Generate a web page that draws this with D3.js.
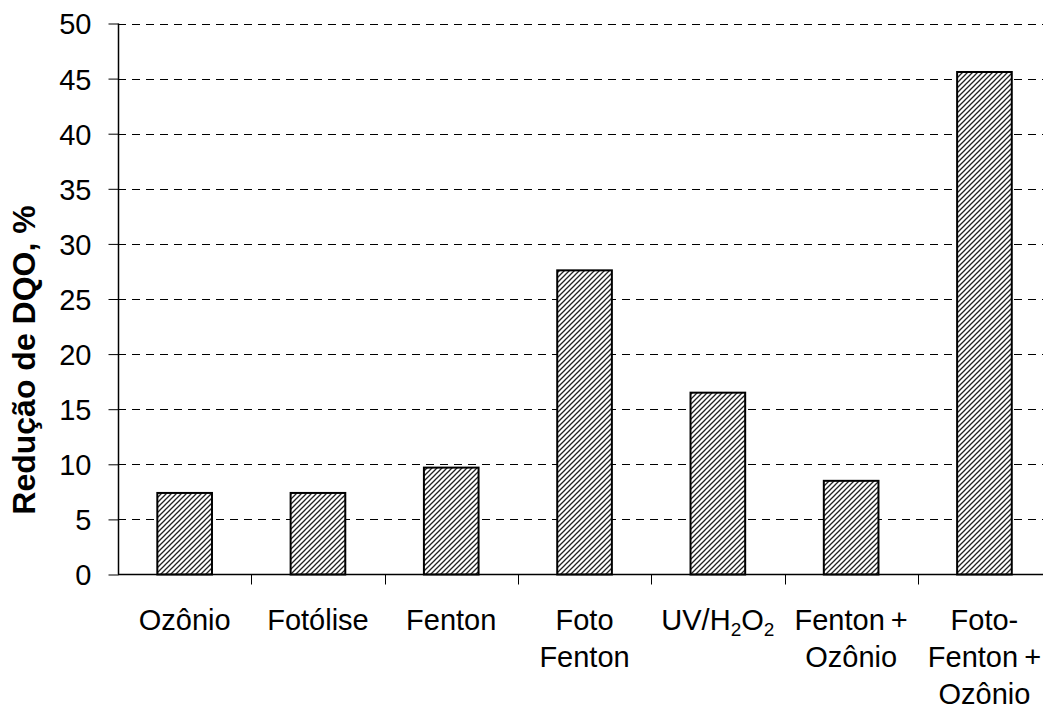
<!DOCTYPE html>
<html>
<head>
<meta charset="utf-8">
<script src="https://cdn.jsdelivr.net/npm/d3@7"></script>
<style>
  html, body { margin: 0; padding: 0; background: #fff; }
  svg { display: block; }
  text { font-family: "Liberation Sans", Arial, sans-serif; fill: #000; }
</style>
</head>
<body>
<svg id="chart" width="1043" height="711"></svg>
<script>
// Treatment processes (multi-line labels split into rows)
const categories = ["Ozônio", "Fotólise", "Fenton", "Foto Fenton", "UV/H2O2", "Fenton + Ozônio", "Foto-Fenton + Ozônio"];
const labelLines = [
  ["Ozônio"],
  ["Fotólise"],
  ["Fenton"],
  ["Foto", "Fenton"],
  ["UV/H2O2"],
  ["Fenton +", "Ozônio"],
  ["Foto-", "Fenton +", "Ozônio"]
];
// COD reduction, %
const reducao = [7.4, 7.4, 9.7, 27.6, 16.5, 8.5, 45.6];
const yTicks = [0, 5, 10, 15, 20, 25, 30, 35, 40, 45, 50];
const yTitle = "Redução de DQO, %";

const svg = d3.select("#chart");
const plotLeft = 118, plotTop = 23.5, plotBottom = 574.5;
const bandW = 133.3;

const x = d3.scaleBand()
  .domain(categories)
  .range([plotLeft, plotLeft + bandW * categories.length])
  .paddingInner(0.59)
  .paddingOuter(0.295);

const y = d3.scaleLinear().domain([0, 50]).range([plotBottom, plotTop]);

// diagonal hatch fill
const defs = svg.append("defs");
const pat = defs.append("pattern")
  .attr("id", "hatch")
  .attr("patternUnits", "userSpaceOnUse")
  .attr("width", 5).attr("height", 5);
pat.append("rect").attr("width", 5).attr("height", 5).attr("fill", "#fff");
pat.append("path")
  .attr("d", "M-1,6 L6,-1 M-1,1 L1,-1 M4,6 L6,4")
  .attr("stroke", "#222")
  .attr("stroke-width", 1.3);

// dashed gridlines
svg.append("g")
  .selectAll("line")
  .data(yTicks.filter(d => d > 0))
  .join("line")
  .attr("x1", plotLeft).attr("x2", 1043)
  .attr("y1", d => Math.round(y(d)) + 0.5)
  .attr("y2", d => Math.round(y(d)) + 0.5)
  .attr("stroke", "#000")
  .attr("stroke-width", 1)
  .attr("stroke-dasharray", "8,6");

// bars
svg.append("g")
  .selectAll("rect")
  .data(categories)
  .join("rect")
  .attr("x", d => x(d))
  .attr("width", x.bandwidth())
  .attr("y", (d, i) => y(reducao[i]))
  .attr("height", (d, i) => y(0) - y(reducao[i]))
  .attr("fill", "url(#hatch)")
  .attr("stroke", "#000")
  .attr("stroke-width", 2);

// y axis
const yAxis = d3.axisLeft(y).tickValues(yTicks).tickSize(10).tickPadding(17).tickFormat(d3.format("d"));
const gy = svg.append("g")
  .attr("transform", `translate(${plotLeft + 0.5},0)`)
  .call(yAxis);
gy.select(".domain").attr("stroke", "#000").attr("stroke-width", 1.5)
  .attr("d", `M0,${plotTop}V${plotBottom}`);
gy.selectAll(".tick line").attr("stroke", "#000");
gy.selectAll(".tick text")
  .style("font-family", "'Liberation Sans', Arial, sans-serif")
  .style("font-size", "29px")
  .attr("dy", "0.36em");

// x axis line and boundary ticks
svg.append("line")
  .attr("x1", plotLeft).attr("x2", 1043)
  .attr("y1", plotBottom).attr("y2", plotBottom)
  .attr("stroke", "#000").attr("stroke-width", 1.5);
svg.append("g")
  .selectAll("line")
  .data(categories.slice(1))
  .join("line")
  .attr("x1", d => Math.round(x(d) - x.step() * 0.295) + 0.5)
  .attr("x2", d => Math.round(x(d) - x.step() * 0.295) + 0.5)
  .attr("y1", plotBottom).attr("y2", plotBottom + 10)
  .attr("stroke", "#000").attr("stroke-width", 1);

// category labels
const lineH = 37;
const lab = svg.append("g")
  .selectAll("text")
  .data(categories)
  .join("text")
  .attr("x", d => x(d) + x.bandwidth() / 2)
  .attr("y", 630)
  .attr("text-anchor", "middle")
  .style("font-size", "29px")
  .style("word-spacing", "-2px");

lab.each(function(d, i) {
  const t = d3.select(this);
  labelLines[i].forEach((line, j) => {
    if (line === "UV/H2O2") {
      const ts = t.append("tspan").attr("x", x(d) + x.bandwidth() / 2).attr("dy", j === 0 ? 0 : lineH);
      ts.append("tspan").text("UV/H");
      ts.append("tspan").text("2").attr("font-size", "19px").attr("dy", 6);
      ts.append("tspan").text("O").attr("dy", -6);
      ts.append("tspan").text("2").attr("font-size", "19px").attr("dy", 6);
    } else {
      t.append("tspan")
        .attr("x", x(d) + x.bandwidth() / 2)
        .attr("dy", j === 0 ? 0 : lineH)
        .text(line);
    }
  });
});

// y axis title
svg.append("text")
  .attr("transform", `translate(35,360) rotate(-90)`)
  .attr("text-anchor", "middle")
  .style("font-size", "32px")
  .style("font-weight", "bold")
  .text(yTitle);
</script>
</body>
</html>
